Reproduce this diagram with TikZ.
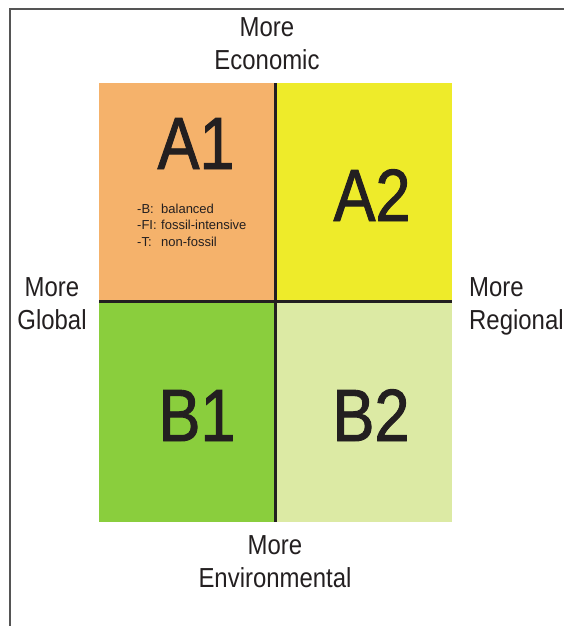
\documentclass[tikz,border=0pt]{standalone}
\usepackage{fontspec}
\setmainfont{Liberation Sans}
\newfontfamily\narrowfont{Liberation Sans}[FakeStretch=0.87]
\newfontfamily\quadfont{Liberation Sans}[FakeStretch=0.85, FakeBold=1.3]

\definecolor{ink}{HTML}{231F20}
\definecolor{frame}{HTML}{555555}
\definecolor{aone}{HTML}{F5B26B}
\definecolor{atwo}{HTML}{EEEB2A}
\definecolor{bone}{HTML}{8ACE3D}
\definecolor{btwo}{HTML}{DCEAA4}

\tikzset{
  axislabel/.style={font=\narrowfont\fontsize{27.5}{33}\selectfont, text=ink, inner sep=0pt},
  quadlabel/.style={font=\quadfont\fontsize{74}{74}\selectfont, text=ink, inner sep=0pt, anchor=base},
}

\begin{document}
\begin{tikzpicture}[x=1pt, y=-1pt]
    \useasboundingbox (0,0) rectangle (564,626);
    % outer frame, top and left only
    \draw[frame, line width=2pt] (564,9) -- (10,9) -- (10,626);

    % the four quadrants
    \fill[aone] (99,83) rectangle (275,301);
    \fill[atwo] (275,83) rectangle (452,301);
    \fill[bone] (99,301) rectangle (275,522);
    \fill[btwo] (275,301) rectangle (452,522);
    \draw[ink, line width=3pt] (275,83) -- (275,522);
    \draw[ink, line width=3pt] (99,301) -- (452,301);

    \node[quadlabel] (a1) at (196,169) {A1};
    \node[quadlabel] (a2) at (372,221) {A2};
    \node[quadlabel] (b1) at (197,441) {B1};
    \node[quadlabel] (b2) at (371,441) {B2};

    \node[anchor=base west, inner sep=0pt, text=ink,
          font=\fontsize{13}{16.5}\selectfont] (legend) at (137,213)
      {\begin{tabular}[t]{@{}p{24pt}@{}l@{}}
        -B: & balanced\\
        -FI: & fossil-intensive\\
        -T: & non-fossil
      \end{tabular}};

    % axis labels
    \node[axislabel, align=center, anchor=north] (econ) at (267,17) {More\\Economic};
    \node[axislabel, align=center, anchor=north] (env) at (275,535) {More\\Environmental};
    \node[axislabel, align=center, anchor=north] (glob) at (52,277) {More\\Global};
    \node[axislabel, align=left, anchor=north west] (reg) at (469,277) {More\\Regional};
\end{tikzpicture}
\end{document}
